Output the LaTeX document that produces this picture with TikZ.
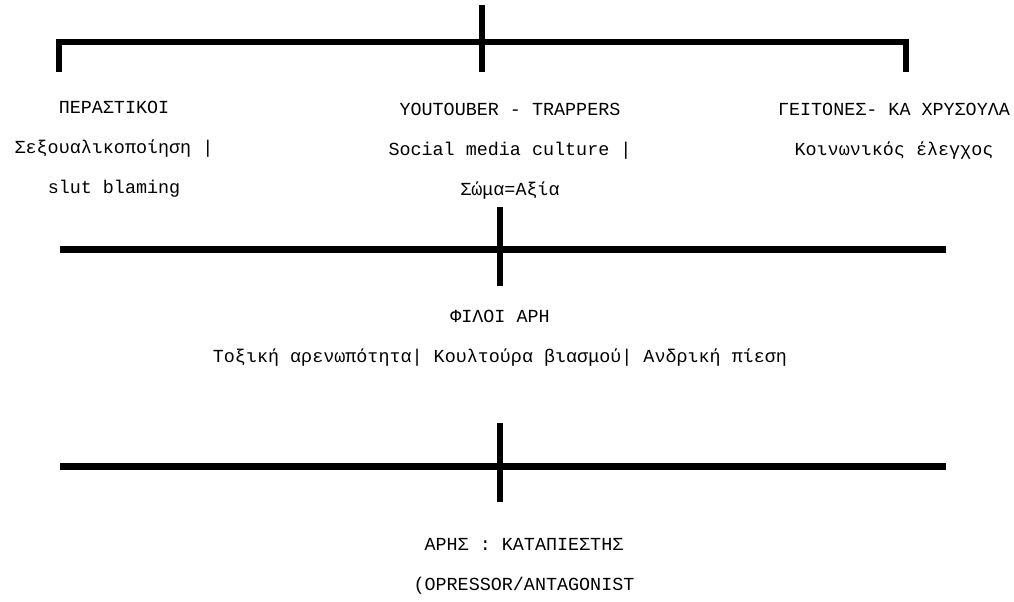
\documentclass[tikz,border=0pt]{standalone}
\usepackage{fontspec}
\setmainfont{Liberation Mono}
\usepackage{tikz}

\begin{document}
\begin{tikzpicture}[
        x=0.5pt, y=-0.5pt,
        label/.style={align=center, inner sep=0pt, font=\fontsize{9.2}{20}\selectfont},
        bar/.style={line width=3.5pt},
        tick/.style={line width=3pt}
    ]
        \useasboundingbox (0,0) rectangle (1014,601);

        % Bracket points
        \coordinate (rootTop) at (482,5);
        \coordinate (rootBot) at (482,72);
        \coordinate (legL) at (59,72);
        \coordinate (cornerL) at (59,42);
        \coordinate (cornerR) at (906,42);
        \coordinate (legR) at (906,72);

        \coordinate (midL) at (60,249);
        \coordinate (midR) at (946,249);
        \coordinate (midTop) at (500,207);
        \coordinate (midBot) at (500,286);

        \coordinate (lowL) at (60,466);
        \coordinate (lowR) at (946,466);
        \coordinate (lowTop) at (500,423);
        \coordinate (lowBot) at (500,502);

        % Nodes
        \node[label] (passers) at (114,149) {ΠΕΡΑΣΤΙΚΟΙ\\Σεξουαλικοποίηση |\\slut blaming};
        \node[label] (youtuber) at (510,151) {YOUTOUBER - TRAPPERS\\Social media culture |\\Σώμα=Αξία};
        \node[label] (neighbours) at (894,131) {ΓΕΙΤΟΝΕΣ- ΚΑ ΧΡΥΣΟΥΛΑ\\Κοινωνικός έλεγχος};
        \node[label] (friends) at (500,338) {ΦΙΛΟΙ ΑΡΗ\\Τοξική αρενωπότητα| Κουλτούρα βιασμού| Ανδρική πίεση};
        \node[label] (ares) at (524,566) {ΑΡΗΣ : ΚΑΤΑΠΙΕΣΤΗΣ\\(OPRESSOR/ANTAGONIST};

        % Lines
        \draw[tick] (rootTop) -- (rootBot);
        \draw[tick] (legL) -- (cornerL) -- (cornerR) -- (legR);
        \draw[bar] (midL) -- (midR);
        \draw[tick] (midTop) -- (midBot);
        \draw[bar] (lowL) -- (lowR);
        \draw[tick] (lowTop) -- (lowBot);
    \end{tikzpicture}
\end{document}
